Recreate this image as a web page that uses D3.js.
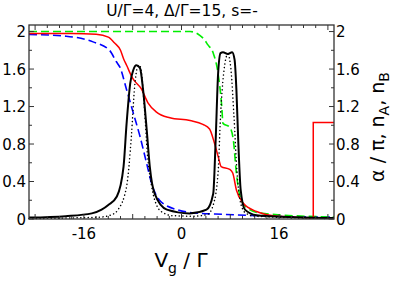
<!DOCTYPE html>
<html>
<head>
<meta charset="utf-8">
<script src="https://cdn.jsdelivr.net/npm/d3@7"></script>
<style>
  body { margin: 0; background: #fff; }
  text { font-family: "DejaVu Sans", sans-serif; fill: #000; }
</style>
</head>
<body>
<svg id="chart" width="395" height="284"></svg>
<script>
"use strict";

// Vg / Gamma
const xTicksMajor = [-16, 0, 16];
const yTicks = [0, 0.4, 0.8, 1.2, 1.6, 2];

// black solid (conductance-like peaks)
const gSolidX = [-25, -19, -14.7, -13.1, -12, -10.6, -9.5, -9.0, -8.4, -7.9, -7.4, -6.8, -6.3, -5.7, -5.2, -4.4, -2.4, 1.3, 4.1, 5.2, 5.6, 6.0, 6.4, 6.8, 7.6, 8.3, 8.7, 9.0, 9.3, 9.7, 10.4, 12.3, 14.5, 25];
const gSolidY = [0.015, 0.03, 0.06, 0.10, 0.15, 0.24, 0.56, 1.02, 1.45, 1.59, 1.64, 1.61, 1.38, 0.95, 0.56, 0.27, 0.10, 0.06, 0.10, 0.27, 0.84, 1.55, 1.77, 1.78, 1.76, 1.78, 1.70, 1.38, 0.84, 0.31, 0.10, 0.04, 0.03, 0.01];

// black dotted
const gDotX = [-25, -13.4, -11.3, -10.4, -9.0, -8.2, -7.7, -7.2, -6.9, -6.6, -6.1, -5.6, -4.9, -4.1, -3.1, -1.4, 2.0, 4.3, 5.2, 6.0, 6.4, 6.9, 7.6, 8.1, 8.6, 9.1, 9.6, 10.4, 12, 25];
const gDotY = [0.005, 0.02, 0.05, 0.10, 0.35, 0.9, 1.4, 1.62, 1.64, 1.58, 1.2, 0.7, 0.35, 0.15, 0.07, 0.035, 0.03, 0.05, 0.15, 0.5, 1.1, 1.55, 1.76, 1.6, 1.1, 0.5, 0.2, 0.07, 0.03, 0.005];

// red solid
const redX = [-25, -18, -14, -12, -11, -10, -9.5, -9, -8, -6.6, -5.5, -4.1, -1.9, 1.4, 3.5, 4.6, 5.4, 6.0, 6.5, 7.9, 8.4, 9.0, 10.1, 12.3, 14.5, 18, 21.6, 21.6, 25];
const redY = [1.98, 1.98, 1.97, 1.94, 1.88, 1.80, 1.71, 1.64, 1.50, 1.39, 1.24, 1.14, 1.08, 1.05, 1.01, 0.96, 0.81, 0.67, 0.56, 0.53, 0.49, 0.31, 0.17, 0.08, 0.04, 0.02, 0.01, 1.03, 1.03];

// green dashed
const greenX = [-25, -10, 1.4, 3.0, 3.8, 4.3, 5.2, 6.0, 6.6, 6.8, 7.9, 8.5, 9.0, 9.6, 10.7, 13.3, 25];
const greenY = [2.0, 2.0, 2.0, 1.96, 1.91, 1.86, 1.77, 1.55, 1.2, 1.02, 0.98, 0.84, 0.49, 0.24, 0.12, 0.06, 0.02];

// blue dashed
const blueX = [-25, -18.9, -14.5, -11.8, -10.7, -10.1, -9.0, -7.9, -6.8, -5.7, -4.9, -3.6, -0.8, 3.0, 6.8, 14.5, 25];
const blueY = [1.97, 1.95, 1.89, 1.80, 1.68, 1.62, 1.38, 1.13, 0.88, 0.59, 0.38, 0.20, 0.10, 0.06, 0.05, 0.03, 0.02];

const svg = d3.select("#chart");
const margin = {left: 29, right: 61, top: 25, bottom: 65};
const W = 395, H = 284;

let x = d3.scaleLinear().domain([-25, 25]).range([margin.left, W - margin.right]);
let y = d3.scaleLinear().domain([0, 2.07]).range([H - margin.bottom, margin.top]);

let plot = svg.append("g");

let line = d3.line()
    .x(d => x(d[0]))
    .y(d => y(d[1]))
    .curve(d3.curveMonotoneX);

function zipXY(xs, ys) {
    return xs.map((v, i) => [v, ys[i]]);
}

plot.append("path")
    .datum(zipXY(blueX, blueY))
    .attr("d", line)
    .attr("fill", "none")
    .attr("stroke", "#0000ff")
    .attr("stroke-width", 1.6)
    .attr("stroke-dasharray", "8,4");

plot.append("path")
    .datum(zipXY(greenX, greenY))
    .attr("d", line)
    .attr("fill", "none")
    .attr("stroke", "#00ee00")
    .attr("stroke-width", 1.6)
    .attr("stroke-dasharray", "8,4");

// red has a vertical jump near Vg = 21.6, the jump itself is straight
plot.append("path")
    .datum(zipXY(redX.slice(0, 27), redY.slice(0, 27)))
    .attr("d", line)
    .attr("fill", "none")
    .attr("stroke", "#ff0000")
    .attr("stroke-width", 1.5);
plot.append("path")
    .datum(zipXY(redX.slice(26), redY.slice(26)))
    .attr("d", d3.line().x(d => x(d[0])).y(d => y(d[1])))
    .attr("fill", "none")
    .attr("stroke", "#ff0000")
    .attr("stroke-width", 1.5);

plot.append("path")
    .datum(zipXY(gDotX, gDotY))
    .attr("d", line)
    .attr("fill", "none")
    .attr("stroke", "#000")
    .attr("stroke-width", 1.5)
    .attr("stroke-linecap", "round")
    .attr("stroke-dasharray", "0.1,3.6");

plot.append("path")
    .datum(zipXY(gSolidX, gSolidY))
    .attr("d", line)
    .attr("fill", "none")
    .attr("stroke", "#000")
    .attr("stroke-width", 2);

// frame and ticks
let frame = svg.append("g").attr("stroke", "#333").attr("fill", "none");
frame.append("rect")
    .attr("x", x(-25)).attr("y", y(2.07))
    .attr("width", x(25) - x(-25)).attr("height", y(0) - y(2.07))
    .attr("stroke-width", 1.3);

let xMinor = d3.range(-24, 25, 2);
xMinor.forEach(function(v) {
    let len = (v % 8 === 0) ? 5 : 3;
    frame.append("line").attr("x1", x(v)).attr("x2", x(v))
        .attr("y1", y(0)).attr("y2", y(0) - len);
    frame.append("line").attr("x1", x(v)).attr("x2", x(v))
        .attr("y1", y(2.07)).attr("y2", y(2.07) + len);
});

let yMinor = d3.range(0, 2.01, 0.2);
yMinor.forEach(function(v, i) {
    let len = (i % 2 === 0) ? 5 : 3;
    frame.append("line").attr("x1", x(-25)).attr("x2", x(-25) + len)
        .attr("y1", y(v)).attr("y2", y(v));
    frame.append("line").attr("x1", x(25)).attr("x2", x(25) - len)
        .attr("y1", y(v)).attr("y2", y(v));
});

// tick labels
svg.selectAll(".xlab")
    .data(xTicksMajor)
    .enter().append("text")
    .attr("class", "xlab")
    .attr("x", d => x(d))
    .attr("y", y(0) + 20)
    .attr("text-anchor", "middle")
    .style("font-size", "15px")
    .text(d => d);

svg.selectAll(".ylabL")
    .data(yTicks)
    .enter().append("text")
    .attr("class", "ylabL")
    .attr("x", x(-25) - 3)
    .attr("y", d => y(d) + 5.5)
    .attr("text-anchor", "end")
    .style("font-size", "15px")
    .text(d => d);

svg.selectAll(".ylabR")
    .data(yTicks)
    .enter().append("text")
    .attr("class", "ylabR")
    .attr("x", x(25) + 2)
    .attr("y", d => y(d) + 5.5)
    .attr("text-anchor", "start")
    .style("font-size", "15px")
    .text(d => d);

// title
svg.append("text")
    .attr("x", 182)
    .attr("y", 16)
    .attr("text-anchor", "middle")
    .style("font-size", "15.5px")
    .text("U/\u0393=4, \u0394/\u0393=15, s=-");

// x label
let xl = svg.append("text")
    .attr("x", 181)
    .attr("y", 267)
    .attr("text-anchor", "middle")
    .style("font-size", "20px");
xl.append("tspan").text("V");
xl.append("tspan").attr("dy", 6).style("font-size", "14px").text("g");
xl.append("tspan").attr("dy", -6).text(" / \u0393");

// right label
let yl = svg.append("text")
    .attr("transform", "translate(384,127) rotate(-90)")
    .attr("text-anchor", "middle")
    .style("font-size", "19px");
yl.append("tspan").text("\u03b1 / \u03c0, n");
yl.append("tspan").attr("dy", 5).style("font-size", "14px").text("A");
yl.append("tspan").attr("dy", -5).text(", n");
yl.append("tspan").attr("dy", 5).style("font-size", "14px").text("B");
</script>
</body>
</html>
